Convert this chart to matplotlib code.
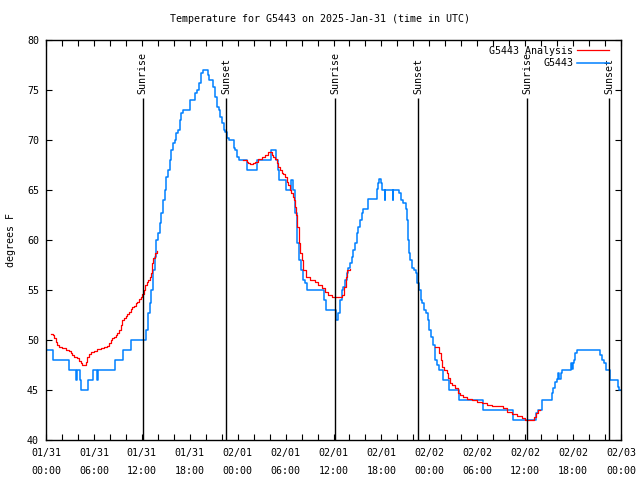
import numpy as np
import pandas as pd
import matplotlib
matplotlib.use('Agg')
import matplotlib.pyplot as plt
import matplotlib.dates as mdates

# hours since 2025-01-31 00:00 UTC, temperature in F
obs_hours = [0.00, 0.88, 2.92, 3.76, 3.88, 4.26, 4.42, 5.26, 5.92, 6.39, 6.51, 8.68, 9.64, 10.68,
             12.46, 12.71, 12.96, 13.15, 13.34, 13.59, 13.77, 14.02, 14.24, 14.44, 14.65, 14.86,
             15.06, 15.28, 15.49, 15.69, 15.90, 16.12, 16.32, 16.53, 16.74, 16.94, 17.16, 17.97,
             18.72, 18.97, 19.22, 19.41, 19.62, 20.25, 20.45, 20.97, 21.22, 21.41, 21.63, 21.83,
             22.04, 22.25, 22.45, 22.67, 22.88, 23.48, 23.70, 23.92, 24.17, 25.11, 26.42, 28.17,
             28.80, 29.01, 29.21, 30.05, 30.68, 30.87, 31.12, 31.24, 31.37, 31.49, 31.62, 31.74,
             31.93, 32.14, 32.37, 32.62, 34.81, 35.12, 36.31, 36.56, 36.81, 37.03, 37.23, 37.44,
             37.65, 37.85, 38.07, 38.28, 38.48, 38.69, 38.91, 39.11, 39.32, 39.53, 39.73, 40.32,
             41.39, 41.57, 41.74, 41.89, 42.07, 42.39, 42.51, 43.39, 43.51, 44.20, 44.39, 44.70,
             45.02, 45.21, 45.33, 45.46, 45.64, 45.83, 46.08, 46.27, 46.46, 46.71, 46.90, 47.08,
             47.33, 47.58, 47.83, 48.02, 48.21, 48.46, 48.77, 49.00, 49.21, 49.75, 50.46, 51.75,
             54.68, 58.48, 61.30, 61.55, 62.17, 63.36, 63.53, 63.74, 63.95, 64.15, 64.28, 64.43,
             64.58, 65.68, 65.83, 65.95, 66.12, 66.28, 66.53, 69.31, 69.56, 69.87, 70.12, 70.62,
             71.59, 71.75, 72.00]
obs_temp = [49, 48, 47, 46, 47, 46, 45, 46, 47, 46, 47, 48, 49, 50,
            51, 52.7, 53.7, 55, 57, 58.3, 60, 60.7, 61.7, 62.7, 64, 65,
            66.3, 67, 68, 69, 69.7, 70, 70.7, 71, 72, 72.7, 73, 74,
            74.7, 75, 75.7, 76.7, 77, 76.5, 76, 75.3, 74.3, 73.3, 73, 72.3,
            71.7, 71, 70.8, 70.2, 70, 69.2, 69, 68.3, 68, 67, 68, 69,
            68, 67, 66, 65, 66, 65, 64, 62.7, 61.3, 59.7, 58.7, 58,
            57, 56, 55.7, 55, 54, 53, 52, 52.7, 54, 55, 55.3, 56,
            56.7, 57.2, 57.7, 58.3, 59, 59.7, 60.7, 61.3, 62, 62.7, 63.1, 64.1,
            65.1, 65.7, 66.1, 65.7, 65, 64, 65, 64, 65, 64.7, 64, 63.7,
            63.1, 62, 60, 58.7, 58, 57.2, 57, 56.7, 55.7, 55, 54, 53.7,
            53, 52.7, 52, 51, 50.3, 49.5, 48, 47.5, 47, 46, 45, 44,
            43, 42, 42.7, 43, 44, 44.7, 45.2, 45.8, 46.1, 46.7, 46.1, 46.7,
            47, 47.7, 47.1, 47.7, 48, 48.7, 49, 48.5, 48, 47.7, 47, 46,
            45.3, 45, 45]

# analysis series, three pieces with gaps between them
ana_hours = [
    [0.66, 0.88, 1.00, 1.21, 1.42, 1.63, 2.04, 2.47, 2.88, 3.09, 3.29, 3.51, 3.92, 4.13, 4.35,
     4.55, 4.76, 4.97, 5.17, 5.38, 5.60, 6.01, 6.42, 6.85, 7.26, 7.68, 7.89, 8.10, 8.30, 8.52,
     8.73, 8.93, 9.14, 9.35, 9.55, 9.77, 9.98, 10.18, 10.39, 10.61, 10.81, 11.02, 11.23, 11.43,
     11.65, 11.86, 12.06, 12.27, 12.40, 12.61, 12.81, 13.02, 13.15, 13.24, 13.44, 13.65, 13.86,
     13.96],
    [24.71, 25.13, 25.33, 25.55, 25.96, 26.17, 26.58, 27.01, 27.42, 27.76, 28.05, 28.26, 28.46,
     28.68, 28.89, 29.09, 29.30, 29.51, 29.71, 29.93, 30.14, 30.34, 30.55, 30.68, 30.89, 31.05,
     31.18, 31.31, 31.47, 31.64, 31.81, 32.02, 32.22, 32.56, 33.06, 33.68, 34.10, 34.52, 34.94,
     35.35, 35.78, 36.60, 37.03, 37.32, 37.53, 37.73, 38.07],
    [48.71, 49.00, 49.21, 49.42, 49.63, 49.84, 50.18, 50.38, 50.59, 50.80, 51.22, 51.63, 51.84,
     52.26, 52.68, 53.31, 53.93, 54.56, 55.19, 55.81, 56.85, 57.26, 57.69, 58.32, 58.94, 59.57,
     59.98, 61.02, 61.15, 61.36, 61.65, 61.86],
]
ana_temp = [
    [50.6, 50.5, 50.2, 49.8, 49.5, 49.3, 49.2, 49.0, 48.9, 48.7, 48.5, 48.3, 48.2, 47.9, 47.7,
     47.5, 47.5, 47.8, 48.3, 48.6, 48.8, 48.9, 49.1, 49.2, 49.3, 49.4, 49.7, 50.0, 50.2, 50.3,
     50.5, 50.7, 51.0, 51.5, 52.0, 52.2, 52.4, 52.6, 52.8, 53.1, 53.3, 53.4, 53.7, 53.8,
     54.1, 54.3, 54.6, 55.0, 55.5, 55.8, 56.0, 56.3, 56.7, 57.7, 58.2, 58.7, 58.9,
     58.9],
    [68.0, 67.8, 67.7, 67.6, 67.7, 67.8, 68.1, 68.3, 68.5, 68.8, 68.8, 68.5, 68.3,
     68.1, 67.7, 67.3, 67.0, 66.7, 66.6, 66.3, 65.8, 65.5, 65.0, 64.7, 64.3, 64.0,
     63.3, 62.5, 61.3, 59.7, 58.7, 58.0, 57.0, 56.3, 56.0, 55.8, 55.5, 55.2, 54.8,
     54.5, 54.3, 54.3, 54.5, 55.3, 56.3, 57.0, 57.1],
    [49.3, 49.3, 48.7, 48.0, 47.3, 47.0, 46.7, 46.2, 45.7, 45.5, 45.2, 44.7, 44.5,
     44.3, 44.1, 44.0, 43.8, 43.7, 43.5, 43.4, 43.4, 43.2, 42.8, 42.6, 42.4, 42.2,
     42.0, 42.0, 42.3, 42.7, 43.0, 43.0],
]

sun_hours = [12.10, 22.54, 36.19, 46.58, 60.23, 70.50]
sun_labels = ['Sunrise', 'Sunset', 'Sunrise', 'Sunset', 'Sunrise', 'Sunset']

base = pd.Timestamp('2025-01-31 00:00')
def to_time(h):
    return base + pd.to_timedelta(np.array(h), unit='h')

plt.rcParams['font.family'] = ['DejaVu Sans Mono']
plt.rcParams['font.size'] = 7.2

fig = plt.figure(figsize=(6.4, 4.8), dpi=100)
ax = fig.add_axes([46/640, 40/480, 575/640, 400/480])

line_obs, = ax.plot(to_time(obs_hours), obs_temp, drawstyle='steps-post',
                    color='#0080ff', lw=1.1, zorder=2)
for i, (h, t) in enumerate(zip(ana_hours, ana_temp)):
    l, = ax.plot(to_time(h), t, drawstyle='steps-post', color='#ff0000', lw=0.9, zorder=3)
    if i == 0:
        line_ana = l

for h, lab in zip(sun_hours, sun_labels):
    tt = to_time([h])[0]
    ax.vlines(tt, 40, 74.2, color='black', lw=1.0, zorder=4)
    ax.text(tt, 74.6, lab, rotation=90, ha='center', va='bottom', zorder=5)

ax.set_xlim(base, base + pd.Timedelta(hours=72))
ax.set_ylim(40, 80)
ax.set_yticks(np.arange(40, 81, 5))
ax.xaxis.set_major_locator(mdates.HourLocator(byhour=[0, 6, 12, 18]))
ax.xaxis.set_minor_locator(mdates.HourLocator(byhour=range(0, 24, 2)))
ax.xaxis.set_major_formatter(mdates.DateFormatter('%m/%d\n%H:%M'))
ax.tick_params(which='both', direction='in', top=True, right=True, length=4, width=0.8)
ax.tick_params(axis='x', pad=5.5)
ax.tick_params(axis='y', pad=5)
for s in ax.spines.values():
    s.set_linewidth(1.0)

ax.legend([line_ana, line_obs], ['G5443 Analysis', 'G5443'], loc='upper right',
          bbox_to_anchor=(1 - 6/575, 1.0),
          frameon=False, markerfirst=False, handlelength=3.2, handletextpad=0.4,
          labelspacing=0.25, borderaxespad=0.3, borderpad=0.3)

fig.text(320/640, 1 - 19/480, 'Temperature for G5443 on 2025-Jan-31 (time in UTC)',
         ha='center', va='center')
fig.text(11/640, 0.5, 'degrees F', rotation=90, ha='center', va='center')

fig.canvas.draw()
for lbl in ax.get_xticklabels():
    lbl.set_linespacing(2.0)

fig.savefig('out.png', dpi=100)
